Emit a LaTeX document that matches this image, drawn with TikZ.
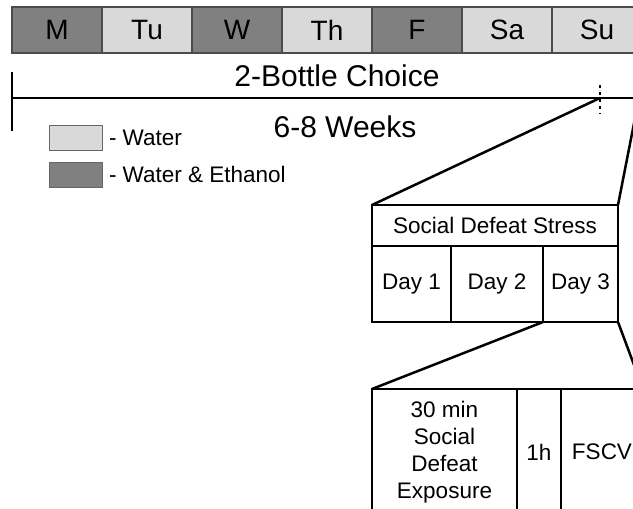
\documentclass[tikz,border=0pt]{standalone}
\usepackage{fontspec}
\setmainfont{Liberation Sans}
\usetikzlibrary{positioning}

\begin{document}
\begin{tikzpicture}[
    x=1pt, y=-1pt,
    node distance=0pt,
    every node/.style={inner sep=0pt, outer sep=0pt},
    daybox/.style={draw=black!70, line width=1.2pt, minimum width=90pt, minimum height=46pt, font=\fontsize{28}{34}\selectfont},
    wet/.style={daybox, fill=black!50},
    dry/.style={daybox, fill=black!15},
    stage/.style={draw, line width=2pt, align=center, font=\fontsize{22.5}{27}\selectfont},
    legendbox/.style={draw=black!60, line width=1pt, minimum width=53pt, minimum height=25pt},
    legendtext/.style={font=\fontsize{22.5}{27}\selectfont},
    bigtext/.style={font=\fontsize{30}{36}\selectfont},
    zoomline/.style={line width=2.5pt}
]
\useasboundingbox (0,0) rectangle (633,509);
\clip (0,0) rectangle (633,509);

% week bar
\node[wet, anchor=north west] (m) at (12,7) {M};
\node[dry, right=of m] (tu) {Tu};
\node[wet, right=of tu] (w) {W};
\node[dry, right=of w] (th) {Th};
\node[wet, right=of th] (f) {F};
\node[dry, right=of f] (sa) {Sa};
\node[dry, right=of sa] (su) {Su};

% timeline
\coordinate (tl0) at (12,98);
\coordinate (tl1) at (640,98);
\coordinate (ticktop) at (12,72);
\coordinate (tickbot) at (12,131);
\draw[zoomline] (tl0) -- (tl1);
\draw[zoomline] (ticktop) -- (tickbot);
\node[bigtext] (choice) at (337,76) {2-Bottle Choice};
\node[bigtext] (weeks) at (345,127) {6-8 Weeks};
\coordinate (dottop) at (600,85);
\coordinate (dotbot) at (600,114);
\draw[line width=2pt, dash pattern=on 3pt off 4pt] (dottop) -- (dotbot);

% legend
\node[legendbox, fill=black!15, anchor=north west] (lwater) at (49,125) {};
\node[legendtext, right=7pt of lwater] (twater) {- Water};
\node[legendbox, fill=black!50, anchor=north west] (lethanol) at (49,162) {};
\node[legendtext, right=7pt of lethanol] (tethanol) {- Water \& Ethanol};

% social defeat stress
\node[stage, anchor=north west, minimum width=246pt, minimum height=41pt] (sds) at (372,205) {Social Defeat Stress};
\node[stage, anchor=north west, minimum width=79pt, minimum height=76pt] (day1) at (sds.south west) {Day 1};
\node[stage, right=of day1, minimum width=92pt, minimum height=76pt] (day2) {Day 2};
\node[stage, right=of day2, minimum width=75pt, minimum height=76pt] (day3) {Day 3};

% day 3 detail
\node[stage, anchor=north west, minimum width=145pt, minimum height=126pt] (expo) at (372,389) {30 min\\Social\\Defeat\\Exposure};
\node[stage, right=of expo, minimum width=44pt, minimum height=126pt] (wait) {1h};
\node[stage, right=of wait, minimum width=82pt, minimum height=126pt] (fscv) {FSCV};

% zoom lines
\coordinate (zl) at (600,98);
\coordinate (zr) at (639,98);
\draw[zoomline] (zl) -- (sds.north west);
\draw[zoomline] (zr) -- (sds.north east);
\draw[zoomline] (day3.south west) -- (expo.north west);
\draw[zoomline] (day3.south east) -- (fscv.north east);
\end{tikzpicture}
\end{document}
